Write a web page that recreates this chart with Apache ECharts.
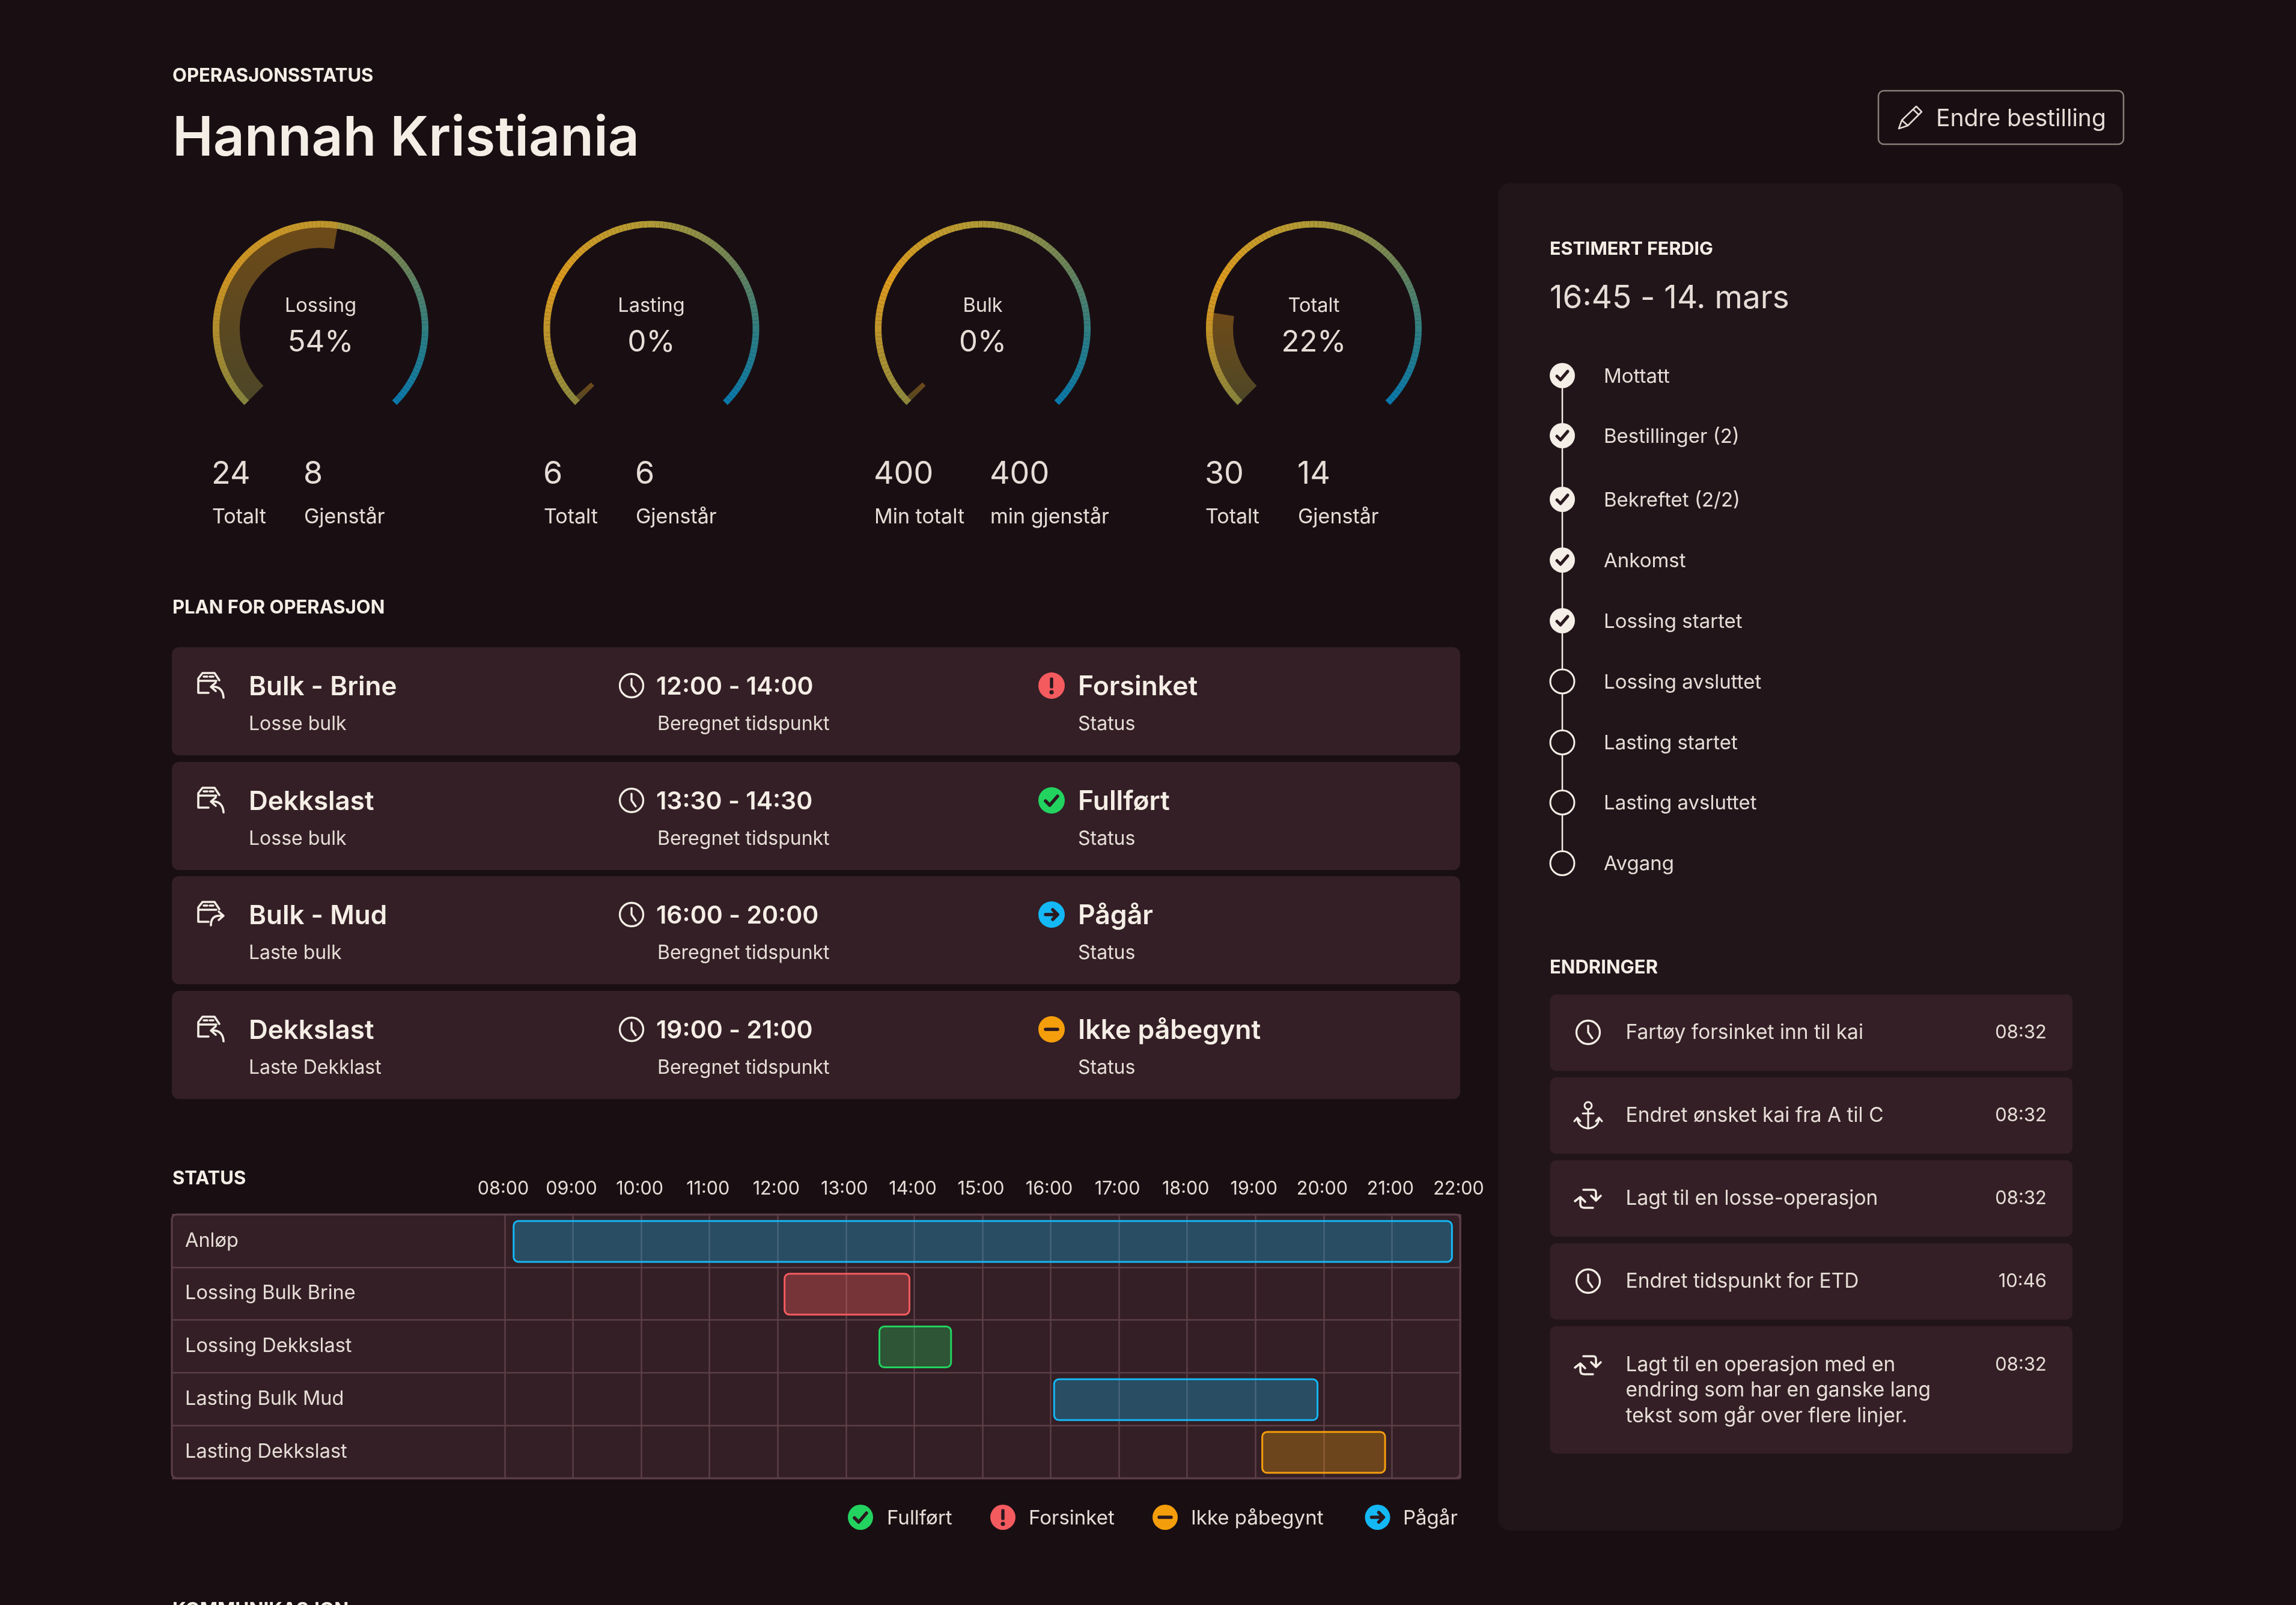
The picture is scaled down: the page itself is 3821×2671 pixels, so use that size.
<!DOCTYPE html>
<html><head><meta charset="utf-8">
<style>html,body{margin:0;padding:0;background:#190f13}#c{width:3821px;height:2671px}</style>
<script src="https://cdn.jsdelivr.net/npm/echarts@6/dist/echarts.min.js"></script>
</head><body><div id="c"></div>
<script>
// ---- data ----
const gaugeNames = ['Lossing', 'Lasting', 'Bulk', 'Totalt'];
const gaugePercentLabels = ['54%', '0%', '0%', '22%'];
const gaugeArcFill = [53.5, 1.2, 1.2, 20];
const statFirstValues = ['24', '6', '400', '30'];
const statFirstLabels = ['Totalt', 'Totalt', 'Min totalt', 'Totalt'];
const statSecondValues = ['8', '6', '400', '14'];
const statSecondLabels = ['Gjenstår', 'Gjenstår', 'min gjenstår', 'Gjenstår'];

const planTitles = ['Bulk - Brine', 'Dekkslast', 'Bulk - Mud', 'Dekkslast'];
const planKinds = ['Losse bulk', 'Losse bulk', 'Laste bulk', 'Laste Dekklast'];
const planDirections = ['in', 'in', 'out', 'in'];
const planTimes = ['12:00 - 14:00', '13:30 - 14:30', '16:00 - 20:00', '19:00 - 21:00'];
const planStatuses = ['Forsinket', 'Fullført', 'Pågår', 'Ikke påbegynt'];

const hourLabels = ['08:00','09:00','10:00','11:00','12:00','13:00','14:00','15:00','16:00','17:00','18:00','19:00','20:00','21:00','22:00'];
const ganttRows = ['Anløp', 'Lossing Bulk Brine', 'Lossing Dekkslast', 'Lasting Bulk Mud', 'Lasting Dekkslast'];
// [start hour, end hour, row index]
const barsDone = [[13.49, 14.54, 2]];
const barsDelayed = [[12.10, 13.93, 1]];
const barsNotStarted = [[19.10, 20.90, 4]];
const barsOngoing = [[8.13, 21.88, 0], [16.05, 19.91, 3]];
const legendNames = ['Fullført', 'Forsinket', 'Ikke påbegynt', 'Pågår'];

const stepNames = ['Mottatt','Bestillinger (2)','Bekreftet (2/2)','Ankomst','Lossing startet','Lossing avsluttet','Lasting startet','Lasting avsluttet','Avgang'];
const stepDone = [true,true,true,true,true,false,false,false,false];

const changeIcons = ['clock','anchor','swap','clock','swap'];
const changeTexts = [['Fartøy forsinket inn til kai'],['Endret ønsket kai fra A til C'],['Lagt til en losse-operasjon'],['Endret tidspunkt for ETD'],['Lagt til en operasjon med en','endring som har en ganske lang','tekst som går over flere linjer.']];
const changeTimes = ['08:32','08:32','08:32','10:46','08:32'];

// ---- style ----
const FONT = 'Inter, "Noto Sans", sans-serif';
const CREAM = '#f5eee6', SOFT = '#e6ddd7', CARD = '#331f25', PANEL = '#21151a', LINE = '#5c3f47', DARK = '#2a191f';
const statusColor = {'Fullført':'#22d35f','Forsinket':'#f45b5f','Ikke påbegynt':'#f59e0b','Pågår':'#14b8f5'};
const TEXT_DY = 2.5;

const els = [];
const pathShapes = {};
function T(x, y, text, size, weight, fill, align) {
  els.push({type:'text', x, y:y + TEXT_DY, z:5, style:{text, fill:fill||SOFT, fontFamily:FONT, fontSize:size, fontWeight:weight||400, align:align||'left', verticalAlign:'middle'}});
}
function box(x, y, w, h, r, fill, stroke, lw) {
  els.push({type:'rect', z:-1, shape:{x, y, width:w, height:h, r}, style:{fill, stroke:stroke||null, lineWidth:lw||0}});
}
function P(d, x, y, stroke, lw, fill) {
  if (!pathShapes[d]) {
    const name = 'iconPath' + Object.keys(pathShapes).length;
    echarts.graphic.registerShape(name, echarts.graphic.extendPath(d, {}));
    pathShapes[d] = name;
  }
  els.push({type:pathShapes[d], z:6, x, y, style:{stroke:stroke||null, lineWidth:lw||0, fill:fill||'none', lineCap:'round', lineJoin:'round'}});
}
function dot(cx, cy, r, fill, stroke, lw, z) {
  els.push({type:'circle', z:z||6, shape:{cx, cy, r}, style:{fill, stroke:stroke||null, lineWidth:lw||0}});
}
function clock(cx, cy) {
  dot(cx, cy, 19.5, 'none', CREAM, 3.3);
  P('M0 -11 V0 L7 10', cx, cy, CREAM, 3.3);
}
function statusIcon(cx, cy, name, r) {
  dot(cx, cy, r, statusColor[name]);
  const g = {'Fullført':'M-10 1 L-3 8 L10 -7','Forsinket':'M0 -11 V2','Ikke påbegynt':'M-10 0 H10','Pågår':'M-10 0 H9 M2 -8 L10 0 L2 8'}[name];
  P(g, cx, cy, DARK, 5.5);
  if (name === 'Forsinket') dot(cx, cy + 11, 3.6, DARK, null, 0, 7);
}
function check(cx, cy) { P('M-9 1 L-3 7 L9 -7', cx, cy, DARK, 5); }

// ---- header ----
T(287, 124, 'OPERASJONSSTATUS', 31, 700, CREAM);
T(287, 229, 'Hannah Kristiania', 91, 600, CREAM);
box(3126, 151, 408, 89, 9, 'none', '#8a7d79', 2.5);
P('M3 40 L8 26 L32 3 L41 12 L18 35 Z M8 26 L18 35 M27 8 L36 17', 3157, 174, SOFT, 2.5);
T(3222, 196, 'Endre bestilling', 39, 400, SOFT);

// ---- gauges ----
const gaugeCx = [533.5, 1084, 1635.5, 2186.5];
const gaugeCy = 547;
const statCol1 = [354, 906, 1456, 2007];
const statCol2 = [507, 1059, 1649, 2161];
const conicKeys = [[0,[138,138,64]],[0.27,[221,154,30]],[0.5,[176,154,53]],[0.7,[107,130,88]],[0.86,[40,125,135]],[1,[10,120,170]]];
function conicStops() {
  const out = [];
  for (let i = 1; i <= 120; i++) {
    const t = i / 120;
    let k = 0;
    while (k < conicKeys.length - 2 && t > conicKeys[k + 1][0]) k++;
    const a = conicKeys[k], b = conicKeys[k + 1], u = (t - a[0]) / (b[0] - a[0]);
    const c = a[1].map((v, j) => Math.round(v + (b[1][j] - v) * u));
    out.push([t, 'rgb(' + c.join(',') + ')']);
  }
  return out;
}
const stops = conicStops();
const gaugeSeries = gaugeNames.map((name, i) => ({
  type:'gauge', center:[gaugeCx[i], gaugeCy], radius:179.5, startAngle:225, endAngle:-45, min:0, max:100, z:3, silent:true,
  axisLine:{roundCap:false, lineStyle:{width:11, color:stops}},
  progress:{show:true, overlap:true, width:45, roundCap:false, clip:false,
    itemStyle:{color:{type:'linear', x:0, y:0, x2:0, y2:1, colorStops:[{offset:0, color:'rgba(214,146,30,.45)'},{offset:1, color:'rgba(125,125,60,.5)'}]}}},
  pointer:{show:false}, anchor:{show:false}, axisTick:{show:false}, splitLine:{show:false}, axisLabel:{show:false},
  title:{offsetCenter:[0,-37.5], color:SOFT, fontFamily:FONT, fontSize:32.5, fontWeight:400},
  detail:{offsetCenter:[0,23], color:SOFT, fontFamily:FONT, fontSize:49, fontWeight:400, valueAnimation:false, formatter:() => gaugePercentLabels[i]},
  animation:false,
  data:[{value:gaugeArcFill[i], name}]
}));
gaugeNames.forEach((_, i) => {
  T(statCol1[i] - 2, 787, statFirstValues[i], 52, 400, SOFT);
  T(statCol1[i] - 1, 858, statFirstLabels[i], 34, 400, SOFT);
  T(statCol2[i] - 2, 787, statSecondValues[i], 52, 400, SOFT);
  T(statCol2[i] - 1, 858, statSecondLabels[i], 34, 400, SOFT);
});

// ---- plan cards ----
T(287, 1009, 'PLAN FOR OPERASJON', 31, 700, CREAM);
const cardTop = [1077, 1268, 1458, 1649];
const ICON_IN = 'M44 31 L36 38 L44 45 M37 38 H43 Q56 40 57 56';
const ICON_OUT = 'M36 54 Q36 38 50 38 H56 M49 31 L57 38 L49 45';
const ICON_BOX = 'M15 48 V24 L22 15 H42 L50 27 M15 28 H45 M15 48 H32 M24 21 H30 M34 21 H40 ';
planTitles.forEach((title, i) => {
  const y = cardTop[i], cy = y + 64, sy = y + 126;
  box(286, y, 2144, 180, 12, CARD);
  P(ICON_BOX + (planDirections[i] === 'in' ? ICON_IN : ICON_OUT), 315, cy - 36, CREAM, 3.6);
  T(414, cy, title, 44, 600, CREAM);
  T(414, sy, planKinds[i], 32, 400, SOFT);
  clock(1051, cy);
  T(1092, cy, planTimes[i], 41, 600, CREAM);
  T(1094, sy, 'Beregnet tidspunkt', 32, 400, SOFT);
  statusIcon(1750, cy, planStatuses[i], 22);
  T(1794, cy, planStatuses[i], 44.5, 600, CREAM);
  T(1794, sy, 'Status', 32, 400, SOFT);
});

// ---- gantt chrome ----
T(287, 1959, 'STATUS', 31, 700, CREAM);
box(286, 2021, 2144, 439, 8, CARD, LINE, 3);
const legendIconX = [1432, 1669, 1939, 2292.5];
const legendTextX = [1476, 1712, 1982, 2335];
legendNames.forEach((n, i) => { statusIcon(legendIconX[i], 2525, n, 21); T(legendTextX[i], 2525, n, 33, 400, SOFT); });
T(287, 2677, 'KOMMUNIKASJON', 31.5, 700, CREAM);

// ---- right panel ----
box(2493, 305, 1040, 2242, 20, PANEL);
T(2579, 412, 'ESTIMERT FERDIG', 30.5, 700, CREAM);
T(2579, 495, '16:45 - 14. mars', 53, 400, SOFT);
const stepY = [625, 725, 831, 932, 1033, 1134, 1235.5, 1335.5, 1436.5];
els.push({type:'line', z:4, shape:{x1:2600, y1:stepY[0], x2:2600, y2:stepY[8]}, style:{stroke:CREAM, lineWidth:2.5}});
stepNames.forEach((n, i) => {
  if (stepDone[i]) { dot(2600, stepY[i], 21, CREAM, null, 0, 5); check(2600, stepY[i]); }
  else dot(2600, stepY[i], 20, PANEL, CREAM, 3, 5);
  T(2669, stepY[i] - 0.5, n, 33, 400, SOFT);
});
T(2579, 1608.5, 'ENDRINGER', 31, 700, CREAM);
const changeTop = [1655, 1793, 1931, 2069, 2207];
const changeH = [127, 127, 127, 127, 212];
changeTexts.forEach((lines, i) => {
  const y = changeTop[i];
  const cy = i === 4 ? 2271 : y + 63;
  box(2579.5, y, 869.5, changeH[i], 10, CARD);
  const kind = changeIcons[i];
  if (kind === 'clock') clock(2643, cy);
  else if (kind === 'anchor') {
    dot(2643, cy - 16, 6, 'none', CREAM, 3);
    P('M0 -10 V22 M-9 -3 H9 M-18 6 Q-16 20 0 22 Q16 20 18 6 M-23 10 L-18 4 L-13 10 M13 10 L18 4 L23 10', 2643, cy, CREAM, 3);
  } else {
    P('M-8 -14 H9 Q13 -14 13 -9 V2 M5 -4 L13 4 L21 -4 M8 16 H-6 Q-13 16 -13 10 V0 M-22 5 L-13 -2 L-5 6', 2643, cy, CREAM, 3.6);
  }
  lines.forEach((s, k) => T(2705.5, cy + k * 42.5 - 2, s, 33.5, 400, SOFT));
  T(3406, cy - 2, changeTimes[i], 31, 400, SOFT, 'right');
});

// ---- gantt series ----
function ganttSeries(name, data, color, alpha) {
  return {
    type:'custom', name, xAxisIndex:0, yAxisIndex:0, z:2, silent:true, clip:false, animation:false,
    encode:{x:[0,1], y:2}, data,
    renderItem(params, api) {
      const a = api.coord([api.value(0), api.value(2)]);
      const b = api.coord([api.value(1), api.value(2)]);
      const h = api.size([0, 1])[1] * 0.775;
      return {type:'rect', shape:{x:a[0], y:a[1] - h / 2 + 1, width:b[0] - a[0], height:h, r:8},
        style:{fill:echarts.color.modifyAlpha(color, alpha), stroke:color, lineWidth:3}};
    }
  };
}

const chart = echarts.init(document.getElementById('c'), null, {width:3821, height:2671, renderer:'canvas'});
chart.setOption({
  backgroundColor:'#190f13',
  animation:false,
  grid:{left:840, right:1391, top:2021, height:439, containLabel:false},
  xAxis:{type:'value', position:'top', min:8, max:22, interval:1,
    axisLine:{show:false}, axisTick:{show:false},
    axisLabel:{color:SOFT, fontFamily:FONT, fontSize:30.5, margin:27, padding:[0,5,0,0], showMinLabel:true, showMaxLabel:true, hideOverlap:false, formatter:v => hourLabels[v - 8]},
    splitLine:{show:true, lineStyle:{color:LINE, width:2.5}}},
  yAxis:{type:'category', inverse:true, data:ganttRows,
    axisLine:{show:false},
    axisTick:{show:true, length:554, lineStyle:{color:LINE, width:2.5}},
    axisLabel:{color:SOFT, fontFamily:FONT, fontSize:32.5, align:'left', margin:532, padding:[10,0,0,0]},
    splitLine:{show:true, lineStyle:{color:LINE, width:2.5}}},
  series:[
    ganttSeries(legendNames[0], barsDone, statusColor['Fullført'], .3),
    ganttSeries(legendNames[1], barsDelayed, statusColor['Forsinket'], .35),
    ganttSeries(legendNames[2], barsNotStarted, statusColor['Ikke påbegynt'], .3),
    ganttSeries(legendNames[3], barsOngoing, statusColor['Pågår'], .3),
    ...gaugeSeries
  ],
  graphic:{elements:els}
});
</script></body></html>
